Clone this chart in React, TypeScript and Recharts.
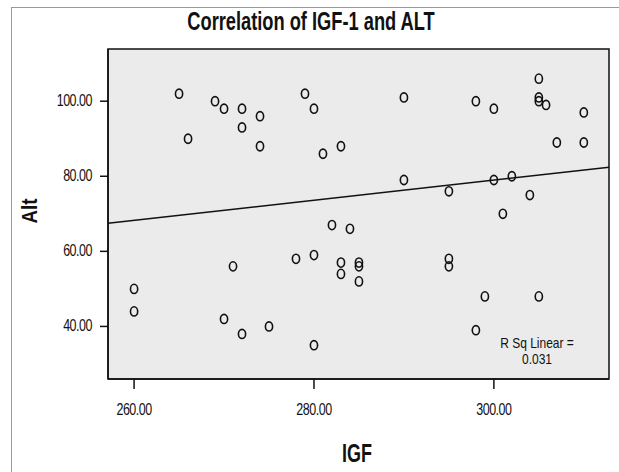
import React from 'react';
import {
  ScatterChart,
  Scatter,
  XAxis,
  YAxis,
  ReferenceArea,
  ReferenceLine,
} from 'recharts';

// IGF (x) and ALT (y)
const igf = [
  260, 260, 265, 266, 269, 270, 272, 272, 274, 274, 279, 280, 281, 283, 282, 284,
  290, 298, 300, 305, 305, 305.8, 305, 310, 307, 310, 290, 295, 300, 302, 304, 301,
  271, 278, 280, 283, 283, 285, 285, 285, 270, 272, 275, 280, 295, 295, 299, 305, 298,
];
const alt = [
  50, 44, 102, 90, 100, 98, 98, 93, 96, 88, 102, 98, 86, 88, 67, 66,
  101, 100, 98, 106, 100, 99, 101, 97, 89, 89, 79, 76, 79, 80, 75, 70,
  56, 58, 59, 57, 54, 57, 56, 52, 42, 38, 40, 35, 58, 56, 48, 48, 39,
];

// fitted line, ends at the plot edges
const fitIgf = [257.1, 312.8];
const fitAlt = [67.5, 82.4];

const xTicks = [260, 280, 300];
const yTicks = [40, 60, 80, 100];
const xDomain = [257.1, 312.8];
const yDomain = [26.0, 113.9];

const rsqLines = ['R Sq Linear =', '0.031'];

const FONT = "'Liberation Sans', Arial, sans-serif";

const points = igf.map((x, i) => ({ x, y: alt[i] }));

const Ring = (props: any) => {
  const { cx, cy } = props;
  if (cx == null || cy == null) return null;
  return <ellipse cx={cx} cy={cy} rx={3.6} ry={4.6} fill="none" stroke="#111" strokeWidth={1.6} />;
};

// narrow SPSS-like tick labels
const YTick = (props: any) => {
  const { x, y, payload } = props;
  return (
    <g transform={`translate(${x},${y})`}>
      <text transform="scale(0.78,1)" textAnchor="end" dy={5} fontSize={16} fill="#111" fontFamily={FONT} letterSpacing={-0.6}>
        {Number(payload.value).toFixed(2)}
      </text>
    </g>
  );
};

const XTick = (props: any) => {
  const { x, y, payload } = props;
  return (
    <g transform={`translate(${x},${y})`}>
      <text transform="scale(0.78,1)" textAnchor="middle" dy={12} fontSize={16} fill="#111" fontFamily={FONT} letterSpacing={-0.6}>
        {Number(payload.value).toFixed(2)}
      </text>
    </g>
  );
};

const label: React.CSSProperties = {
  position: 'absolute',
  whiteSpace: 'nowrap',
  fontWeight: 'bold',
  color: '#111',
  transformOrigin: 'center center',
};

const small: React.CSSProperties = {
  position: 'absolute',
  whiteSpace: 'nowrap',
  color: '#111',
  fontSize: 15,
  lineHeight: '14px',
  transformOrigin: 'center center',
};

export default function App() {
  return (
    <div
      style={{
        position: 'absolute',
        left: 0,
        top: 0,
        width: 619,
        height: 472,
        background: '#fff',
        overflow: 'hidden',
        fontFamily: FONT,
      }}
    >
      <div
        style={{
          position: 'absolute',
          left: 11,
          top: 7,
          width: 640,
          height: 500,
          borderLeft: '1.5px solid #999',
          borderTop: '1.5px solid #999',
        }}
      />
      <div style={{ position: 'absolute', left: 0, top: 0 }}>
        <ScatterChart
          width={619}
          height={472}
          margin={{ top: 49, right: 10, bottom: 53, left: 48 }}
        >
          <ReferenceArea
            x1={xDomain[0]}
            x2={xDomain[1]}
            y1={yDomain[0]}
            y2={yDomain[1]}
            fill="#ebebeb"
            fillOpacity={1}
            stroke="#111"
            strokeWidth={1.5}
            ifOverflow="visible"
          />
          <XAxis
            type="number"
            dataKey="x"
            domain={xDomain}
            ticks={xTicks}
            allowDataOverflow
            tick={<XTick />}
            tickSize={10}
            tickMargin={14}
            height={40}
            stroke="#111"
            axisLine={{ stroke: '#111', strokeWidth: 1.5 }}
            tickLine={{ stroke: '#111', strokeWidth: 1.5 }}
          />
          <YAxis
            type="number"
            dataKey="y"
            domain={yDomain}
            ticks={yTicks}
            allowDataOverflow
            tick={<YTick />}
            tickSize={8}
            tickMargin={8}
            width={60}
            stroke="#111"
            axisLine={{ stroke: '#111', strokeWidth: 1.5 }}
            tickLine={{ stroke: '#111', strokeWidth: 1.5 }}
          />
          <ReferenceLine
            segment={[
              { x: fitIgf[0], y: fitAlt[0] },
              { x: fitIgf[1], y: fitAlt[1] },
            ]}
            stroke="#111"
            strokeWidth={1.5}
            ifOverflow="visible"
          />
          <Scatter data={points} shape={<Ring />} isAnimationActive={false} />
        </ScatterChart>
      </div>
      <div
        style={{
          ...label,
          left: 311,
          top: 21,
          fontSize: 25,
          transform: 'translate(-50%, -50%) scale(0.73, 1)',
        }}
      >
        Correlation of IGF-1 and ALT
      </div>
      <div
        style={{
          ...label,
          left: 30,
          top: 211,
          fontSize: 22,
          transform: 'translate(-50%, -50%) rotate(-90deg) scale(0.85, 1)',
        }}
      >
        Alt
      </div>
      <div
        style={{
          ...label,
          left: 357,
          top: 453,
          fontSize: 25,
          transform: 'translate(-50%, -50%) scale(0.72, 1)',
        }}
      >
        IGF
      </div>
      {rsqLines.map((t, i) => (
        <div
          key={t}
          style={{
            ...small,
            left: 537,
            top: 343 + i * 16,
            transform: 'translate(-50%, -50%) scale(0.8, 1)',
          }}
        >
          {t}
        </div>
      ))}
    </div>
  );
}
